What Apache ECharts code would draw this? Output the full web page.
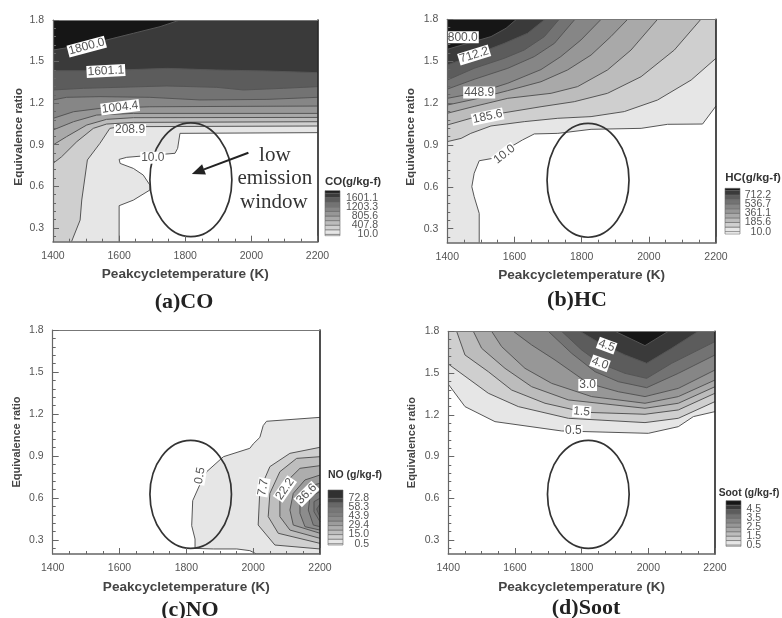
<!DOCTYPE html>
<html><head><meta charset="utf-8">
<style>html,body{margin:0;padding:0;background:#fff}#c{width:782px;height:618px;filter:blur(0.45px)}</style>
<script src="https://cdn.jsdelivr.net/npm/echarts@6/dist/echarts.min.js"></script>
</head><body><div id="c"></div>
<script>
// ---- data: contour lines in [temperature K, equivalence ratio] ----
const tempTicks = [1400,1600,1800,2000,2200];
const phiTicks = [0.3,0.6,0.9,1.2,1.5,1.8];
const phiMinorTicks = [0.24,0.36,0.42,0.48,0.54,0.66,0.72,0.78,0.84,0.96,1.02,1.08,1.14,1.26,1.32,1.38,1.44,1.56,1.62,1.68,1.74];

const coLevels = [10,208.9,407.8,606.7,805.6,1004.4,1203.3,1402.2,1601.1,1800];
const coLegendTicks = [10,407.8,805.6,1203.3,1601.1];
const coContours = [
 [[1600,0.2],[1600,0.46],[1643,0.5],[1693,0.573],[1693,0.609],[1673,0.681],[1643,0.729],[1603,0.765],[1600,0.794],[1623,0.809],[1744,0.833],[1769,0.838],[1777,0.874],[1784,0.982],[2200,0.987]],
 [[1456,0.2],[1482,0.356],[1487,0.501],[1504,0.79],[1542,0.91],[1572,1.018],[1603,1.03],[2200,1.035]],
 [[1400,0.765],[1426,0.813],[1472,0.922],[1522,1.018],[1562,1.049],[1643,1.061],[2200,1.066]],
 [[1400,0.898],[1441,0.958],[1502,1.042],[1562,1.083],[1643,1.095],[2200,1.097]],
 [[1400,1.006],[1462,1.066],[1532,1.114],[1643,1.126],[2200,1.126]],
 [[1400,1.09],[1462,1.138],[1542,1.162],[1693,1.174],[2200,1.179]],
 [[1400,1.223],[1441,1.242],[1542,1.247],[1693,1.242],[1844,1.223],[2047,1.227],[2200,1.242]],
 [[1400,1.295],[1492,1.307],[1744,1.324],[1895,1.314],[1976,1.295],[2097,1.307],[2200,1.319]],
 [[1400,1.434],[1542,1.434],[1744,1.451],[1895,1.439],[2047,1.432],[2200,1.42]],
 [[1400,1.583],[1462,1.608],[1542,1.644],[1643,1.704],[1724,1.752],[1784,1.8]]
];
const coLabels = ['1800.0','1601.1','1004.4','208.9','10.0'];
const coLabelAt = [[1502,1.608],[1560,1.432],[1603,1.17],[1633,1.006],[1702,0.806]];
const coLabelTilt = [15,3,7,0,0];
const coWindow = [[1817,0.647]];
const coWindowRadius = [124,0.411];
const coNote = ['low','emission','window'];
const coNoteAt = [[2071,0.825],[2071,0.659],[2068,0.486]];
const coArrow = [[1991,0.842],[1820,0.689]];

const hcLevels = [10,97.8,185.6,273.4,361.1,448.9,536.7,624.4,712.2,800];
const hcLegendTicks = [10,185.6,361.1,536.7,712.2];
const hcContours = [
 [[1495,0.2],[1495,0.41],[1480,0.53],[1473,0.601],[1480,0.697],[1495,0.787],[1535,0.804],[1590,0.888],[1624,0.936],[1659,0.979],[1729,0.983],[1828,1.012],[1977,1.019],[2056,1.048],[2160,1.05],[2200,1.179]],
 [[1400,0.924],[1441,0.947],[1470,0.983],[1530,1.036],[1629,1.067],[1729,1.091],[1828,1.103],[1927,1.139],[2026,1.222],[2126,1.365],[2200,1.521]],
 [[1400,1.043],[1470,1.091],[1560,1.127],[1679,1.174],[1778,1.21],[1877,1.27],[1977,1.389],[2076,1.58],[2155,1.8]],
 [[1400,1.127],[1480,1.176],[1580,1.234],[1709,1.27],[1788,1.318],[1877,1.437],[1947,1.58],[2026,1.8]],
 [[1400,1.186],[1480,1.227],[1580,1.289],[1679,1.353],[1758,1.437],[1828,1.544],[1887,1.676],[1937,1.8]],
 [[1400,1.234],[1495,1.277],[1580,1.342],[1679,1.44],[1738,1.533],[1798,1.652],[1858,1.8]],
 [[1400,1.3],[1480,1.37],[1580,1.449],[1659,1.533],[1719,1.628],[1780,1.8]],
 [[1400,1.365],[1480,1.449],[1570,1.521],[1629,1.58],[1689,1.676],[1733,1.8]],
 [[1400,1.473],[1480,1.544],[1570,1.628],[1639,1.7],[1691,1.8]],
 [[1400,1.585],[1461,1.628],[1530,1.676],[1575,1.736],[1606,1.8]]
];
const hcLabels = ['800.0','712.2','448.9','185.6','10.0'];
const hcLabelAt = [[1446,1.671],[1480,1.544],[1495,1.275],[1520,1.103],[1570,0.833]];
const hcLabelTilt = [0,17,0,12,38];
const hcWindow = [[1819,0.647]];
const hcWindowRadius = [122,0.408];

const noLevels = [0.5,7.7,15,22.2,29.4,36.6,43.9,51.1,58.3,65.6,72.8];
const noLegendTicks = [0.5,15,29.4,43.9,58.3,72.8];
const noContours = [
 [[2200,1.176],[2040,1.148],[2030,1.117],[2020,1.033],[2000,0.986],[1990,0.955],[1911,0.895],[1861,0.788],[1839,0.688],[1819,0.581],[1816,0.402],[1826,0.307],[1826,0.24],[1881,0.236],[1951,0.236],[1990,0.224],[2010,0.2],[2200,0.2]],
 [[2200,0.962],[2110,0.919],[2050,0.824],[2020,0.657],[2015,0.407],[2065,0.264],[2200,0.236]],
 [[2200,0.895],[2130,0.883],[2080,0.788],[2050,0.633],[2045,0.467],[2075,0.348],[2200,0.276]],
 [[2200,0.831],[2140,0.812],[2100,0.717],[2080,0.61],[2080,0.467],[2110,0.371],[2200,0.312]],
 [[2200,0.764],[2155,0.729],[2120,0.633],[2110,0.514],[2120,0.407],[2200,0.348]],
 [[2200,0.705],[2160,0.681],[2140,0.586],[2140,0.49],[2155,0.395],[2200,0.371]],
 [[2200,0.645],[2170,0.61],[2165,0.514],[2180,0.407],[2200,0.395]],
 [[2200,0.598],[2182,0.574],[2182,0.502],[2200,0.431]],
 [[2200,0.557],[2190,0.521],[2200,0.462]]
];
const noLabels = ['0.5','7.7','22.2','36.6'];
const noLabelAt = [[1841,0.76],[2030,0.676],[2095,0.664],[2160,0.629]];
const noLabelTilt = [80,80,55,45];
const noWindow = [[1813,0.626]];
const noWindowRadius = [122,0.386];

const sootLevels = [0.5,1,1.5,2,2.5,3,3.5,4,4.5,5];
const sootLegendTicks = [0.5,1.5,2.5,3.5,4.5];
const sootContours = [
 [[1400,1.42],[1450,1.259],[1540,1.151],[1740,1.084],[2000,1.067],[2090,1.115],[2135,1.187],[2200,1.223]],
 [[1400,1.565],[1520,1.355],[1610,1.259],[1760,1.175],[1990,1.144],[2090,1.175],[2200,1.295]],
 [[1425,1.8],[1450,1.63],[1520,1.51],[1590,1.378],[1690,1.283],[1810,1.218],[1990,1.204],[2090,1.235],[2200,1.355]],
 [[1475,1.8],[1500,1.678],[1570,1.534],[1650,1.402],[1760,1.307],[1990,1.247],[2090,1.283],[2200,1.402]],
 [[1530,1.8],[1560,1.69],[1630,1.534],[1710,1.426],[1830,1.331],[1990,1.283],[2090,1.331],[2200,1.45]],
 [[1595,1.8],[1650,1.702],[1720,1.594],[1820,1.426],[1910,1.366],[1990,1.331],[2090,1.39],[2200,1.522]],
 [[1700,1.8],[1770,1.642],[1840,1.51],[1910,1.438],[1995,1.395],[2090,1.498],[2200,1.63]],
 [[1740,1.8],[1800,1.666],[1855,1.57],[1930,1.498],[1995,1.462],[2070,1.57],[2200,1.726]],
 [[1795,1.8],[1855,1.714],[1930,1.63],[1995,1.57],[2070,1.678],[2150,1.8]],
 [[1900,1.8],[1990,1.697],[2060,1.8]]
];
const sootLabels = ['4.5','4.0','3.0','1.5','0.5'];
const sootLabelAt = [[1875,1.697],[1855,1.57],[1818,1.414],[1800,1.223],[1775,1.084]];
const sootLabelTilt = [-20,-20,0,-5,0];
const sootWindow = [[1820,0.629]];
const sootWindowRadius = [122.5,0.388];

// ---- layout & style ----
const SANS = '"Liberation Sans",Arial,sans-serif', SERIF = '"Liberation Serif","Times New Roman",serif';
const ramp = ['#e6e6e6','#cfcfcf','#bcbcbc','#a9a9a9','#979797','#868686','#737373','#5c5c5c','#3a3a3a','#161616'];
const rampNo = ['#e6e6e6','#d0d0d0','#bebebe','#adadad','#9c9c9c','#8c8c8c','#7f7f7f','#767676','#686868','#474747','#303030'];
const panels = [
 {key:'CO', levels:coLevels, contours:coContours, labels:coLabels, labelAt:coLabelAt, tilt:coLabelTilt, win:coWindow, winR:coWindowRadius, ticks:coLegendTicks, colors:ramp,
  box:[53,20,264.5,221.7], legend:[325,190.7,15,45,-48,1904,38], legendTitle:['CO(g/kg-f)',353,182,11.5], caption:['(a)CO',184,302], yNameSize:11.8, yShift:12, yGap:28},
 {key:'HC', levels:hcLevels, contours:hcContours, labels:hcLabels, labelAt:hcLabelAt, tilt:hcLabelTilt, win:hcWindow, winR:hcWindowRadius, ticks:hcLegendTicks, colors:ramp,
  box:[447.3,19.3,268.7,223.4], legend:[725,188.3,15,45.7,-35,840,31], legendTitle:['HC(g/kg-f)',753,178,11.5], caption:['(b)HC',577,300], yNameSize:11.8, yShift:12, yGap:31},
 {key:'NO', levels:noLevels, contours:noContours, labels:noLabels, labelAt:noLabelAt, tilt:noLabelTilt, win:noWindow, winR:noWindowRadius, ticks:noLegendTicks, colors:rampNo,
  box:[52.7,330,267.3,224], legend:[328,490,15,55,-1.6,86,26], legendTitle:['NO (g/kg-f)',355,475,10.5], caption:['(c)NO',190,610], yNameSize:11, yShift:0, yGap:30},
 {key:'Soot', levels:sootLevels, contours:sootContours, labels:sootLabels, labelAt:sootLabelAt, tilt:sootLabelTilt, win:sootWindow, winR:sootWindowRadius, ticks:sootLegendTicks, colors:ramp,
  box:[448.3,331.3,266.7,222.7], legend:[726,500.7,15,45.6,0.35,5.5,20], legendTitle:['Soot (g/kg-f)',749,493,10.3], caption:['(d)Soot',586,608], yNameSize:11, yShift:0, yGap:31}
];

const grid=[], xAxis=[], yAxis=[], series=[], graphic=[];
const axisGray='#666';
panels.forEach(p=>{
  const g=grid.length;
  grid.push({left:p.box[0],top:p.box[1],width:p.box[2],height:p.box[3],containLabel:false,show:false});
  const x0=xAxis.length, y0=yAxis.length;
  xAxis.push({gridIndex:g,type:'value',min:1400,max:2200,interval:200,position:'bottom',z:5,
    axisLine:{show:true,lineStyle:{color:axisGray,width:1.5}},
    axisTick:{show:true,inside:true,length:6,lineStyle:{color:axisGray}},
    minorTick:{show:true,splitNumber:4,length:3,lineStyle:{color:axisGray}},
    splitLine:{show:false},
    axisLabel:{customValues:tempTicks,formatter:v=>String(v),showMinLabel:true,showMaxLabel:true,margin:9,fontSize:10.5,color:'#555',fontFamily:SANS},
    name:'Peakcycletemperature (K)',nameLocation:'middle',nameGap:26,
    nameTextStyle:{fontSize:13.6,fontWeight:'bold',color:'#444',fontFamily:SANS}});
  xAxis.push({gridIndex:g,type:'value',min:1400,max:2200,position:'top',z:5,
    axisLine:{show:true,lineStyle:{color:'#777',width:1}},axisTick:{show:false},axisLabel:{show:false},splitLine:{show:false}});
  yAxis.push({gridIndex:g,type:'value',min:0.2,max:1.8,position:'left',z:5,
    axisLine:{show:true,lineStyle:{color:axisGray,width:1.2}},
    axisTick:{show:true,inside:true,length:6,customValues:phiTicks,lineStyle:{color:axisGray}},
    splitLine:{show:false},
    axisLabel:{customValues:phiTicks,formatter:v=>v.toFixed(1),showMinLabel:true,showMaxLabel:true,margin:9,fontSize:10.5,color:'#555',fontFamily:SANS},
    name:'Equivalence ratio',nameLocation:'middle',nameGap:p.yGap,
    nameTextStyle:{fontSize:p.yNameSize,fontWeight:'bold',color:'#444',fontFamily:SANS,padding:[0,p.yShift,0,0]}});
  yAxis.push({gridIndex:g,type:'value',min:0.2,max:1.8,position:'left',z:5,
    axisLine:{show:false},axisLabel:{show:false},splitLine:{show:false},
    axisTick:{show:true,inside:true,length:3,customValues:phiMinorTicks,lineStyle:{color:axisGray}}});
  yAxis.push({gridIndex:g,type:'value',min:0.2,max:1.8,position:'right',z:5,
    axisLine:{show:true,lineStyle:{color:'#222',width:1.6}},axisTick:{show:false},axisLabel:{show:false},splitLine:{show:false}});

  // filled contour levels, light to dark
  p.contours.forEach((pts,i)=>{
    const closeTop = p.key!=='NO';
    series.push({type:'custom',name:p.key+' '+p.levels[i],xAxisIndex:x0,yAxisIndex:y0,z:2,clip:true,silent:true,data:pts,
      renderItem:(params,api)=>{
        if(params.dataIndex!==0) return null;
        const ring=pts.slice();
        if(closeTop){ ring.push([2200,1.8],[1400,1.8]); if(pts[0][1]===0.2) ring.push([1400,0.2]); }
        return {type:'group',children:[
          {type:'polygon',shape:{points:ring.map(q=>api.coord(q))},style:{fill:p.colors[i],stroke:null}},
          {type:'polyline',shape:{points:pts.map(q=>api.coord(q))},style:{fill:null,stroke:'#555',lineWidth:1}}
        ]};
      }});
  });
  // low emission window ellipse
  series.push({type:'custom',name:p.key+' window',xAxisIndex:x0,yAxisIndex:y0,z:3,silent:true,data:p.win,
    renderItem:(params,api)=>{
      const c=api.coord([api.value(0),api.value(1)]);
      const e=api.coord([api.value(0)+p.winR[0],api.value(1)+p.winR[1]]);
      return {type:'ellipse',shape:{cx:c[0],cy:c[1],rx:e[0]-c[0],ry:c[1]-e[1]},style:{fill:null,stroke:'#333',lineWidth:1.7}};
    }});
  // contour labels
  series.push({type:'custom',name:p.key+' labels',xAxisIndex:x0,yAxisIndex:y0,z:4,silent:true,data:p.labelAt,
    renderItem:(params,api)=>{
      const c=api.coord([api.value(0),api.value(1)]);
      return {type:'text',x:c[0],y:c[1],rotation:p.tilt[params.dataIndex]*Math.PI/180,
        style:{text:p.labels[params.dataIndex],x:0,y:0,align:'center',verticalAlign:'middle',
          font:'12px '+SANS,fill:'#555',backgroundColor:'#fff',padding:[0,1,0,1]}};
    }});
  // legend mini-scale
  const L=p.legend, lg=grid.length;
  grid.push({left:L[0],top:L[1],width:L[2],height:L[3],show:false});
  const lx=xAxis.length, ly=yAxis.length;
  xAxis.push({gridIndex:lg,type:'value',min:0,max:1,show:false});
  yAxis.push({gridIndex:lg,type:'value',min:L[4],max:L[5],position:'right',show:false});
  const bounds=[L[4]].concat(p.levels,[L[5]]);
  const bands=bounds.slice(0,-1).map((v,i)=>[v,bounds[i+1]]);
  series.push({type:'custom',name:p.key+' legend',xAxisIndex:lx,yAxisIndex:ly,z:3,silent:true,data:bands,
    renderItem:(params,api)=>{
      const a=api.coord([0,api.value(0)]), b=api.coord([1,api.value(1)]);
      const i=params.dataIndex;
      return {type:'rect',shape:{x:a[0],y:b[1],width:b[0]-a[0],height:a[1]-b[1]},
        style:{fill:i===0?'#fff':p.colors[Math.min(i-1,p.colors.length-1)],stroke:'#666',lineWidth:0.6}};
    }});
  series.push({type:'custom',name:p.key+' legend labels',xAxisIndex:lx,yAxisIndex:ly,z:4,silent:true,clip:false,
    data:p.ticks.map(v=>[1,v]),
    renderItem:(params,api)=>{
      const c=api.coord([1,api.value(1)]);
      return {type:'text',x:c[0]+L[6],y:c[1],style:{text:api.value(1).toFixed(1),x:0,y:0,align:'right',verticalAlign:'middle',font:'10.5px '+SANS,fill:'#555'}};
    }});
  graphic.push({type:'text',x:p.legendTitle[1],y:p.legendTitle[2],style:{text:p.legendTitle[0],align:'center',verticalAlign:'middle',font:'bold '+p.legendTitle[3]+'px '+SANS,fill:'#333'}});
  graphic.push({type:'text',x:p.caption[1],y:p.caption[2],style:{text:p.caption[0],align:'center',verticalAlign:'middle',font:'bold 22px '+SERIF,fill:'#222'}});
  if(p.key==='CO'){
    series.push({type:'custom',name:'note',xAxisIndex:x0,yAxisIndex:y0,z:4,silent:true,data:coNoteAt,
      renderItem:(params,api)=>{
        const c=api.coord([api.value(0),api.value(1)]);
        return {type:'text',x:c[0],y:c[1],style:{text:coNote[params.dataIndex],x:0,y:0,align:'center',verticalAlign:'middle',font:'21px '+SERIF,fill:'#333'}};
      }});
    series.push({type:'custom',name:'arrow',xAxisIndex:x0,yAxisIndex:y0,z:4,silent:true,data:coArrow,
      renderItem:(params,api)=>{
        if(params.dataIndex!==0) return null;
        const s=api.coord(coArrow[0]), e=api.coord(coArrow[1]);
        const dx=e[0]-s[0], dy=e[1]-s[1], n=Math.hypot(dx,dy), ux=dx/n, uy=dy/n, h=13, w=5.5;
        const bx=e[0]-ux*h, by=e[1]-uy*h;
        return {type:'group',children:[
          {type:'line',shape:{x1:s[0],y1:s[1],x2:bx,y2:by},style:{stroke:'#222',lineWidth:2}},
          {type:'polygon',shape:{points:[e,[bx-uy*w,by+ux*w],[bx+uy*w,by-ux*w]]},style:{fill:'#222'}}
        ]};
      }});
  }
});

const chart=echarts.init(document.getElementById('c'),null,{renderer:'canvas'});
chart.setOption({animation:false,backgroundColor:'#fff',grid,xAxis,yAxis,series,graphic,tooltip:{show:false}});
</script></body></html>
